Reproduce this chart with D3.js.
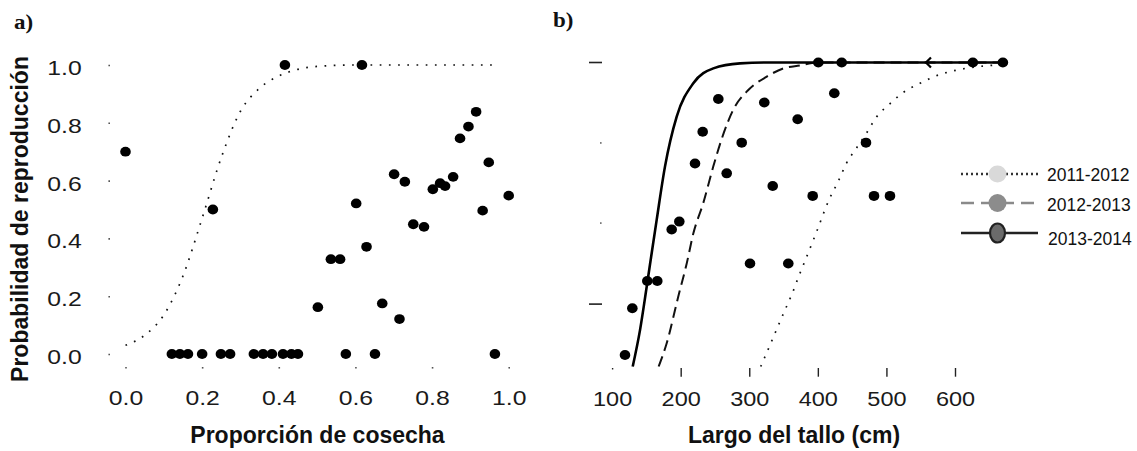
<!DOCTYPE html>
<html>
<head>
<meta charset="utf-8">
<script src="https://cdn.jsdelivr.net/npm/d3@7"></script>
<style>
  html, body { margin: 0; padding: 0; background: #fff; }
  svg { display: block; }
  .tick-label { font-family: "Liberation Sans", Arial, sans-serif; font-size: 21px; fill: #1a1a1a; }
  .axis-title { font-family: "Liberation Sans", Arial, sans-serif; font-size: 23px; font-weight: bold; fill: #111; }
  .panel-tag { font-family: "Liberation Serif", "Times New Roman", serif; font-size: 20px; font-weight: bold; fill: #111; }
  .legend-label { font-family: "Liberation Sans", Arial, sans-serif; font-size: 17.5px; fill: #111; }
</style>
</head>
<body>
<svg id="chart" width="1137" height="451"></svg>
<script>
// ---- Panel a: harvest proportion vs. reproduction probability ----
const harvestShare = [
  0.0, 0.228, 0.416, 0.617,
  0.121, 0.142, 0.163, 0.200, 0.249, 0.273, 0.335, 0.359, 0.382, 0.411, 0.433, 0.450, 0.575, 0.651, 0.964,
  0.915, 0.895, 0.873, 0.948, 0.701, 0.729, 0.855, 0.821, 0.834, 0.802, 1.0,
  0.602, 0.932, 0.751, 0.779, 0.629, 0.536, 0.560, 0.502, 0.670, 0.715
];
const harvestProb = [
  0.70, 0.50, 1.0, 1.0,
  0, 0, 0, 0, 0, 0, 0, 0, 0, 0, 0, 0, 0, 0, 0,
  0.838, 0.787, 0.746, 0.663, 0.622, 0.596, 0.613, 0.591, 0.581, 0.570, 0.548,
  0.521, 0.496, 0.449, 0.440, 0.371, 0.328, 0.328, 0.162, 0.175, 0.121
];
// fitted curve for panel a, read along its length
const fitHarvestX = [0.0, 0.05, 0.10, 0.15, 0.20, 0.25, 0.30, 0.35, 0.40, 0.45, 0.50, 0.60, 0.975];
const fitHarvestY = [0.03, 0.065, 0.135, 0.27, 0.47, 0.68, 0.84, 0.92, 0.962, 0.985, 0.995, 1.0, 1.0];

// ---- Panel b: stem length vs. reproduction probability ----
const stemLength = [
  118.8, 129.5, 151.3, 165.9, 186.9, 198.0, 220.9, 232.1, 254.9, 267.1,
  289.0, 301.1, 321.9, 334.2, 356.9, 370.6, 392.5, 400.7, 424.0, 434.8,
  470.2, 481.9, 505.2, 626.0, 669.8
];
const stemProb = [
  0.0, 0.16, 0.253, 0.253, 0.429, 0.456, 0.655, 0.763, 0.875, 0.621,
  0.726, 0.313, 0.863, 0.578, 0.313, 0.806, 0.544, 1.0, 0.895, 1.0,
  0.726, 0.544, 0.544, 1.0, 1.0
];
// a partly hidden mark on the upper asymptote
const halfMarkLength = [560.6];
const halfMarkProb = [1.0];

// fitted curves per season, read along their length
const fit2011X = [316.7, 330.2, 340.9, 352.1, 362.8, 372.5, 382.7, 397.3, 417.3, 429.4, 441.6, 456.2, 470.8, 485.3, 504.7, 524.1, 548.9, 575.6, 602.5, 669.8];
const fit2011Y = [-0.04, 0.034, 0.093, 0.154, 0.211, 0.271, 0.33, 0.416, 0.536, 0.592, 0.655, 0.707, 0.758, 0.813, 0.858, 0.897, 0.929, 0.957, 0.974, 0.993];
const fit2012X = [167.8, 179.6, 196.5, 208.8, 218.4, 233.0, 247.6, 260.0, 277.0, 298.6, 325.0, 350.0, 374.0, 400.0, 677.0];
const fit2012Y = [-0.04, 0.04, 0.2, 0.313, 0.415, 0.52, 0.645, 0.74, 0.84, 0.906, 0.951, 0.98, 0.99, 1.0, 1.0];
const fit2013X = [130.0, 140.7, 150.5, 157.7, 165.0, 177.1, 194.2, 218.4, 247.6, 286.5, 330.0, 677.0];
const fit2013Y = [-0.04, 0.085, 0.234, 0.348, 0.462, 0.644, 0.815, 0.929, 0.98, 0.997, 1.0, 1.0];

const seasons = ["2011-2012", "2012-2013", "2013-2014"];

// ---- Tick values ----
const xTicksA = [0, 0.2, 0.4, 0.6, 0.8, 1.0];
const yTicksA = [0, 0.2, 0.4, 0.6, 0.8, 1.0];
const xTicksB = [100, 200, 300, 400, 500, 600];
const yMarksB = [1.0, 0.725, 0.451, 0.174];
const yMarkKindB = ["dash", "dot", "dot", "dash"];

const svg = d3.select("#chart");
const fmt1 = d3.format(".1f");
const labelStretch = 1.18;

// scales
const xA = d3.scaleLinear().domain([0, 1]).range([125.5, 508.7]);
const yA = d3.scaleLinear().domain([0, 1]).range([354, 65]);
const xB = d3.scaleLinear().domain([100, 600]).range([612.1, 955]);
const yB = d3.scaleLinear().domain([0, 1]).range([355, 62.5]);

// panel tags
svg.append("text").attr("class", "panel-tag").attr("x", 14).attr("y", 29)
  .attr("transform", "translate(14,0) scale(1.15,1) translate(-14,0)").text("a)");
svg.append("text").attr("class", "panel-tag").attr("x", 553).attr("y", 27)
  .attr("transform", "translate(553,0) scale(1.15,1) translate(-553,0)").text("b)");

// ================= Panel a =================
const gA = svg.append("g");

// x axis: dot ticks and labels
const axA = gA.append("g").attr("transform", "translate(0,367)")
  .call(d3.axisBottom(xA).tickValues(xTicksA).tickFormat(fmt1).tickSize(1.6).tickPadding(0));
axA.select(".domain").remove();
axA.selectAll(".tick line").attr("stroke", "#555").attr("stroke-width", 1.6);
axA.selectAll(".tick text").attr("class", "tick-label").attr("font-size", null).attr("font-family", null)
  .attr("fill", null).attr("y", 38).attr("dy", 0).attr("transform", `scale(${labelStretch},1)`);

// y axis: dot ticks and labels
const ayA = gA.append("g").attr("transform", "translate(110,0)")
  .call(d3.axisLeft(yA).tickValues(yTicksA).tickFormat(fmt1).tickSize(1.6).tickPadding(0));
ayA.select(".domain").remove();
ayA.selectAll(".tick line").attr("stroke", "#555").attr("stroke-width", 1.6);
ayA.selectAll(".tick text").attr("class", "tick-label").attr("font-size", null).attr("font-family", null)
  .attr("fill", null).attr("x", -28.3 / labelStretch).attr("dy", 0).attr("y", 9.5)
  .attr("transform", `scale(${labelStretch},1)`);

// fitted dotted curve
const lineA = d3.line().x((d) => xA(d[0])).y((d) => yA(d[1])).curve(d3.curveMonotoneX);
gA.append("path")
  .datum(d3.zip(fitHarvestX, fitHarvestY))
  .attr("d", lineA).attr("fill", "none").attr("stroke", "#111")
  .attr("stroke-width", 1.7).attr("stroke-dasharray", "1.7 7.5");

// observations
gA.append("g").selectAll("ellipse")
  .data(d3.zip(harvestShare, harvestProb))
  .join("ellipse")
  .attr("cx", (d) => xA(d[0])).attr("cy", (d) => yA(d[1]))
  .attr("rx", 5.3).attr("ry", 4.9).attr("fill", "#000");

// axis titles
svg.append("text").attr("class", "axis-title").attr("x", 317.5).attr("y", 443)
  .attr("text-anchor", "middle").text("Proporción de cosecha");
svg.append("text").attr("class", "axis-title")
  .attr("transform", "translate(28,219) rotate(-90)")
  .attr("text-anchor", "middle").text("Probabilidad de reproducción");

// ================= Panel b =================
const gB = svg.append("g");

svg.append("defs").append("clipPath").attr("id", "clipB")
  .append("rect")
  .attr("x", xB(60)).attr("y", yB(1.04))
  .attr("width", xB(700) - xB(60)).attr("height", yB(-0.04) - yB(1.04));

// x axis: bar ticks and labels
const axB = gB.append("g").attr("transform", "translate(0,368)")
  .call(d3.axisBottom(xB).tickValues(xTicksB).tickSize(8.7).tickPadding(0));
axB.select(".domain").remove();
axB.selectAll(".tick line").attr("stroke", "#222").attr("stroke-width", 1.4)
  .attr("y2", (d) => (d === 100 ? 1.5 : 8.7));
axB.selectAll(".tick text").attr("class", "tick-label").attr("font-size", null).attr("font-family", null)
  .attr("fill", null).attr("y", 38).attr("dy", 0).attr("transform", `scale(1.12,1)`);

// y marks on the left edge
const yMarkData = d3.zip(yMarksB, yMarkKindB);
gB.append("g").selectAll("rect")
  .data(yMarkData)
  .join("rect")
  .attr("x", (d) => (d[1] === "dash" ? 589 : 600))
  .attr("y", (d) => yB(d[0]) - 0.8)
  .attr("width", (d) => (d[1] === "dash" ? 13 : 1.6))
  .attr("height", 1.6)
  .attr("fill", (d) => (d[1] === "dash" ? "#222" : "#666"));

const lineB = d3.line().x((d) => xB(d[0])).y((d) => yB(d[1])).curve(d3.curveMonotoneX);
const curvesB = gB.append("g").attr("clip-path", "url(#clipB)");

curvesB.append("path")
  .datum(d3.zip(fit2011X, fit2011Y))
  .attr("d", lineB).attr("fill", "none").attr("stroke", "#111")
  .attr("stroke-width", 1.7).attr("stroke-dasharray", "1.7 7.5");
curvesB.append("path")
  .datum(d3.zip(fit2012X, fit2012Y))
  .attr("d", lineB).attr("fill", "none").attr("stroke", "#111")
  .attr("stroke-width", 2).attr("stroke-dasharray", "11 6");
curvesB.append("path")
  .datum(d3.zip(fit2013X, fit2013Y))
  .attr("d", lineB).attr("fill", "none").attr("stroke", "#000")
  .attr("stroke-width", 2.6);

// observations
gB.append("g").selectAll("ellipse")
  .data(d3.zip(stemLength, stemProb))
  .join("ellipse")
  .attr("cx", (d) => xB(d[0])).attr("cy", (d) => yB(d[1]))
  .attr("rx", 5.3).attr("ry", 5).attr("fill", "#000");

gB.append("g").selectAll("path")
  .data(d3.zip(halfMarkLength, halfMarkProb))
  .join("path")
  .attr("transform", (d) => `translate(${xB(d[0])},${yB(d[1])})`)
  .attr("d", "M3,-5 L-2,0 L3,5")
  .attr("fill", "none").attr("stroke", "#000").attr("stroke-width", 2.2);

svg.append("text").attr("class", "axis-title").attr("x", 794).attr("y", 443)
  .attr("text-anchor", "middle").text("Largo del tallo (cm)");

// ================= Legend =================
const legend = svg.append("g");
const legendRows = [
  { y: 174, textY: 181, dash: "2 3", stroke: "#333", width: 2.4, fill: "#d9d9d9", outline: "none", rx: 9, ry: 8.5 },
  { y: 203, textY: 211, dash: "13 7", stroke: "#8a8a8a", width: 2.6, fill: "#8c8c8c", outline: "none", rx: 9, ry: 9 },
  { y: 233, textY: 245, dash: null, stroke: "#222", width: 2.6, fill: "#6b6b6b", outline: "#222", rx: 7.5, ry: 9.5 }
];
legendRows.forEach((row, i) => {
  legend.append("line")
    .attr("x1", 961).attr("x2", 1038).attr("y1", row.y).attr("y2", row.y)
    .attr("stroke", row.stroke).attr("stroke-width", row.width)
    .attr("stroke-dasharray", row.dash);
  legend.append("ellipse")
    .attr("cx", 997.5).attr("cy", row.y).attr("rx", row.rx).attr("ry", row.ry)
    .attr("fill", row.fill).attr("stroke", row.outline).attr("stroke-width", 2.2);
  legend.append("text").attr("class", "legend-label")
    .attr("x", 1047 + (i === 2 ? 1 : 0)).attr("y", row.textY).text(seasons[i]);
});
</script>
</body>
</html>
